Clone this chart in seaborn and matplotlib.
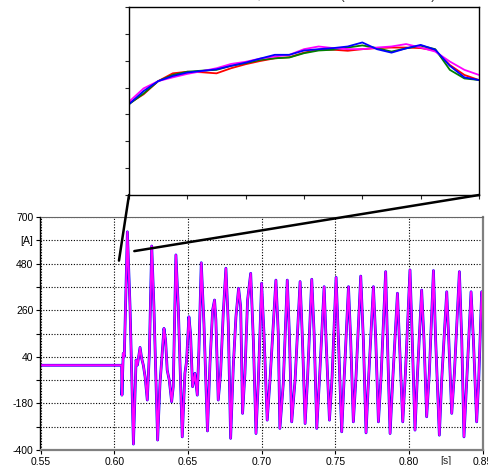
import matplotlib.pyplot as plt
import pandas as pd
import seaborn as sns
from matplotlib.patches import ConnectionPatch

sns.set_style("white")
plt.rcParams["font.family"] = ["Liberation Sans", "DejaVu Sans"]

# main trace; the four channels lie on top of each other
time_s = [
    0.550, 0.6050, 0.6052, 0.6061, 0.6068, 0.6089, 0.6107, 0.6130, 0.6148, 0.6157,
    0.6175, 0.6186, 0.6197, 0.6209, 0.6224, 0.6238, 0.6254, 0.6269, 0.6294, 0.6310,
    0.6321, 0.6337, 0.6348, 0.6359, 0.6373, 0.6389, 0.6400, 0.6418, 0.6434, 0.6461,
    0.6479, 0.6490, 0.6506, 0.6517, 0.6531, 0.6547, 0.6563, 0.6574, 0.6590, 0.6608,
    0.6632, 0.6649, 0.6667, 0.6680, 0.6689, 0.6705, 0.6721, 0.6739, 0.6757, 0.6773,
    0.6789, 0.6807, 0.6825, 0.6843, 0.6857, 0.6870, 0.6886, 0.6904, 0.6925, 0.6943,
    0.6961, 0.6977, 0.6999, 0.7015, 0.7037, 0.7056, 0.7096, 0.7112, 0.7123, 0.7146,
    0.7173, 0.7187, 0.7203, 0.7226, 0.7260, 0.7276, 0.7294, 0.7310, 0.7339, 0.7355,
    0.7373, 0.7391, 0.7423, 0.7436, 0.7459, 0.7477, 0.7504, 0.7520, 0.7542, 0.7558,
    0.7588, 0.7603, 0.7621, 0.7639, 0.7671, 0.7689, 0.7707, 0.7725, 0.7757, 0.7773,
    0.7791, 0.7809, 0.7840, 0.7852, 0.7870, 0.7888, 0.7920, 0.7933, 0.7956, 0.7974,
    0.8005, 0.8019, 0.8039, 0.8055, 0.8084, 0.8100, 0.8118, 0.8136, 0.8164, 0.8179,
    0.8204, 0.8220, 0.8254, 0.8268, 0.8288, 0.8306, 0.8340, 0.8356, 0.8371, 0.8390,
    0.8419, 0.8435, 0.8457, 0.8471, 0.8491, 0.8500,
]
current_a = [
    0, 0, -141, 56, 40, 630, 276, -372, 25, 1,
    84, 32, 1, -54, -164, 56, 563, 276, -353, -86,
    17, 174, 119, -23, -70, -172, -101, 521, 276, -338,
    -38, 17, 229, 151, -101, -38, -141, 72, 484, 198,
    -310, 9, 261, 308, 213, -164, -38, 245, 458, 198,
    -345, -7, 229, 363, 276, -227, -38, 308, 434, 119,
    -322, -70, 387, 151, -259, -70, 402, 151, -298, -86,
    402, 151, -267, -70, 395, 119, -275, -70, 406, 151,
    -298, -70, 371, 119, -259, -54, 415, 119, -314, -70,
    371, 119, -267, -54, 421, 119, -319, -54, 371, 119,
    -267, -54, 442, 119, -322, -70, 340, 119, -267, -38,
    450, 151, -306, -54, 355, 119, -243, -38, 447, 119,
    -330, -70, 347, 119, -227, -38, 442, 119, -338, -70,
    347, 119, -267, -70, 347, 300,
]

# zoomed window (inset), one curve per channel
zoom_x = [0, 0.25, 0.5, 0.75, 1, 1.25, 1.5, 1.75, 2, 2.25, 2.5, 2.75, 3,
          3.25, 3.5, 3.75, 4, 4.25, 4.5, 4.75, 5, 5.25, 5.5, 5.75, 6]
zoom_red = [3.41, 3.75, 4.24, 4.53, 4.59, 4.57, 4.53, 4.72, 4.87, 4.99, 5.09, 5.13, 5.30,
            5.41, 5.41, 5.37, 5.43, 5.47, 5.49, 5.49, 5.47, 5.38, 4.84, 4.47, 4.28]
zoom_green = [3.38, 3.78, 4.24, 4.47, 4.59, 4.63, 4.66, 4.81, 4.91, 5.03, 5.09, 5.12, 5.28,
              5.38, 5.41, 5.49, 5.57, 5.47, 5.34, 5.46, 5.56, 5.43, 4.66, 4.34, 4.28]
zoom_magenta = [3.47, 3.97, 4.24, 4.38, 4.51, 4.61, 4.72, 4.88, 4.96, 5.08, 5.16, 5.22, 5.43,
                5.53, 5.47, 5.43, 5.43, 5.49, 5.53, 5.62, 5.49, 5.34, 4.97, 4.66, 4.47]
zoom_blue = [3.38, 3.87, 4.24, 4.43, 4.56, 4.62, 4.68, 4.81, 4.93, 5.08, 5.22, 5.22, 5.38,
             5.43, 5.47, 5.53, 5.68, 5.43, 5.30, 5.46, 5.59, 5.41, 4.81, 4.38, 4.28]

y_ticks = [-400, -290, -180, -70, 40, 150, 260, 370, 480, 590, 700]
y_labels = ["-400", "", "-180", "", "40", "", "260", "", "480", "[A]", "700"]
x_ticks = [0.55, 0.60, 0.65, 0.70, 0.75, 0.80, 0.85]
x_labels = ["0.55", "0.60", "0.65", "0.70", "0.75", "0.80", "0.85"]

W, H = 489, 465
fig = plt.figure(figsize=(W / 100, H / 100), dpi=100)

# ---- main plot
ax = fig.add_axes([40.5 / W, 15 / H, 442.5 / W, 233 / H])
main_df = pd.DataFrame({"time": time_s, "current": current_a})
for color, lw, alpha in [("red", 1.0, 1), ("green", 1.0, 1), ("blue", 2.0, 1), ("magenta", 1.4, 1)]:
    sns.lineplot(data=main_df, x="time", y="current", color=color, lw=lw, alpha=alpha,
                 estimator=None, sort=False, ax=ax)

ax.set_xlim(0.55, 0.85)
ax.set_ylim(-400, 700)
ax.set_xticks(x_ticks, x_labels)
ax.set_yticks(y_ticks, y_labels)
ax.set_xlabel("")
ax.set_ylabel("")
ax.tick_params(direction="out", length=3, width=0.8, pad=2, labelsize=7.5,
               bottom=True, left=True, colors="black")
ax.grid(True, color="black", linestyle=(0, (1, 1.5)), linewidth=0.8)
ax.spines["left"].set_color("black")
ax.spines["left"].set_linewidth(1.0)
ax.spines["top"].set_color("0.4")
ax.spines["top"].set_linewidth(0.8)
for side in ("bottom", "right"):
    ax.spines[side].set_color("0.5")
    ax.spines[side].set_linewidth(1.6)
ax.annotate("[s]", xy=(0.825, -400), xytext=(0, -4.3), textcoords="offset points",
            ha="center", va="top", fontsize=7.5)

# ---- inset
ax_in = fig.add_axes([129 / W, 1 - 195 / H, 350 / W, 188 / H])
zoom_df = pd.DataFrame({
    "x": zoom_x * 4,
    "value": zoom_red + zoom_green + zoom_magenta + zoom_blue,
    "channel": ["red"] * 25 + ["green"] * 25 + ["magenta"] * 25 + ["blue"] * 25,
})
sns.lineplot(data=zoom_df, x="x", y="value", hue="channel",
             palette={"red": "#ff0000", "green": "#008000", "magenta": "#ff00ff", "blue": "#0000ff"},
             lw=1.3, estimator=None, sort=False, legend=False, ax=ax_in)
ax_in.set_xlim(0, 6)
ax_in.set_ylim(0, 7)
ax_in.set_xticks(range(0, 7))
ax_in.set_yticks(range(0, 8))
ax_in.set_xticklabels([])
ax_in.set_yticklabels([])
ax_in.set_xlabel("")
ax_in.set_ylabel("")
ax_in.tick_params(direction="out", length=3, width=0.8, bottom=True, left=True)
for side in ax_in.spines.values():
    side.set_color("black")
    side.set_linewidth(1.0)

# title of the inset sits above the image edge, only its lowest strokes show
fig.text(180 / W, 1 + 1.0 / H, "Inrush current, zoomed view (0.606 \u2013 0.616 s)",
         va="baseline", ha="left", fontsize=9)

# lines joining the inset to the zoomed spot
for xy_in, xy_main in [((0, 0), (0.6032, 494)), ((6, 0), (0.6136, 539))]:
    con = ConnectionPatch(xyA=xy_in, coordsA=ax_in.transData, xyB=xy_main,
                          coordsB=ax.transData, color="black", lw=1.8)
    fig.add_artist(con)

fig.savefig("out.png", dpi=100)
plt.close(fig)
